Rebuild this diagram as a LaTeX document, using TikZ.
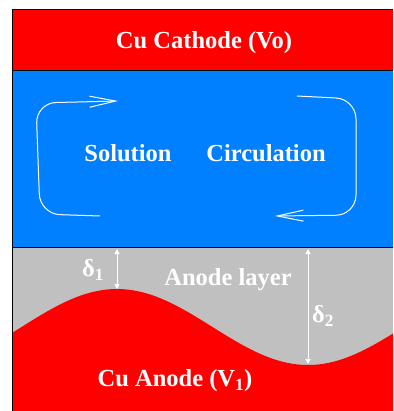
\documentclass[tikz,border=0pt]{standalone}
\usepackage{fontspec}
\setmainfont{Liberation Serif}
\usetikzlibrary{arrows.meta}
\definecolor{cured}{RGB}{255,0,0}
\definecolor{solblue}{RGB}{0,128,255}
\definecolor{laygray}{RGB}{192,192,192}
\begin{document}
\begin{tikzpicture}[x=1pt,y=-1pt,
  lbl/.style={text=white,font=\bfseries\fontsize{24.5}{28}\selectfont,inner sep=0pt},
  circ/.style={draw=white,line width=1pt,rounded corners=20pt,-{Straight Barb[length=26pt,width=11pt,line width=1pt]}},
  gap/.style={draw=white,line width=1pt,{Triangle[length=5pt,width=5pt]}-{Triangle[length=5pt,width=5pt]}}]
\useasboundingbox (0,0) rectangle (393,411);
% bands
\fill[cured] (12,10) rectangle (393,71);
\fill[solblue] (12,71) rectangle (393,247);
\fill[laygray] (12,247) rectangle (393,411);
\fill[cured] plot[domain=12:393,samples=120] (\x,{327-38*cos(0.94241*(\x-117))}) -- (393,411) -- (12,411) -- cycle;
\draw[black,line width=1pt] (393,10) -- (12,10) -- (12,411);
\draw[black,line width=1pt] (12,71) -- (393,71);
\draw[black,line width=1pt] (12,247) -- (393,247);
% texts
\node[lbl] (cath) at (204,43) {Cu Cathode (Vo)};
\node[lbl] (sol) at (128,153) {Solution};
\node[lbl] (circ) at (266,153) {Circulation};
\node[lbl] (lay) at (228,280) {Anode layer};
\node[lbl] (anode) at (175,381) {Cu Anode (V\textsubscript{1})};
\node[lbl] (d1) at (93,270) {δ\textsubscript{1}};
\node[lbl] (d2) at (323,316) {δ\textsubscript{2}};
% circulation arrows
\coordinate (la) at (100,216);
\coordinate (lb) at (40,214);
\coordinate (lc) at (36,103);
\coordinate (ld) at (118,101);
\draw[circ] (la) -- (lb) -- (lc) -- (ld);
\coordinate (ra) at (297,96);
\coordinate (rb) at (356,99);
\coordinate (rc) at (356,215);
\coordinate (rd) at (275,216);
\draw[circ] (ra) -- (rb) -- (rc) -- (rd);
% thickness arrows
\coordinate (g1a) at (117,249);
\coordinate (g1b) at (117,289);
\coordinate (g2a) at (308,249);
\coordinate (g2b) at (308,364);
\draw[gap] (g1a) -- (g1b);
\draw[gap] (g2a) -- (g2b);
\end{tikzpicture}
\end{document}
